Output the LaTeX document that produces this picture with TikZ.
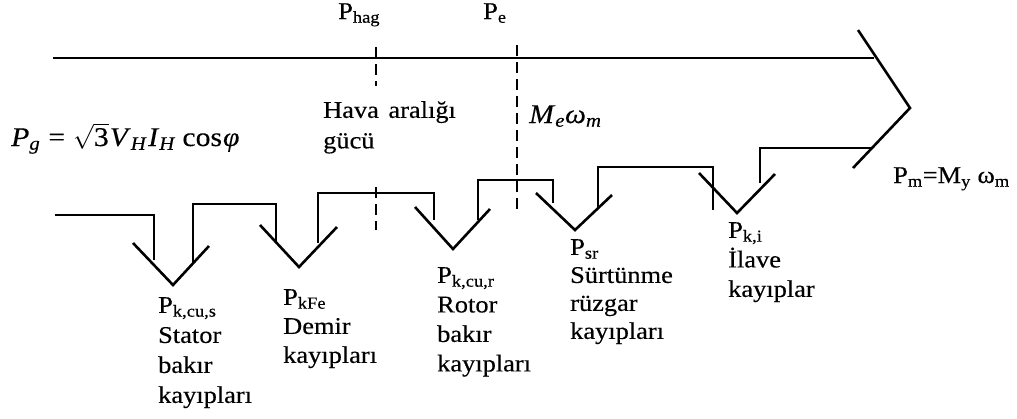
\documentclass[tikz,border=0pt]{standalone}
\usepackage{fontspec}
\setmainfont{Liberation Serif}[FakeStretch=1.1, FakeBold=0.3]
\begin{document}
\begin{tikzpicture}[x=1pt,y=-1pt,
  flow/.style={line width=2.6pt, line join=miter},
  sep/.style={line width=2.2pt, dash pattern=on 11pt off 6pt},
  lbl/.style={inner sep=0pt, anchor=north west, align=left, font=\fontsize{24}{29.5}\selectfont},
  mlbl/.style={inner sep=0pt, anchor=base west, font=\fontsize{27}{30}\selectfont}]
\useasboundingbox (0,0) rectangle (1017,418);
% main power band
\draw[flow] (53,58) -- (874,58);
\draw[flow] (858,30) -- (910,108) -- (853,168);
\draw[flow] (55,215) -- (154,215) -- (154,260);
\draw[flow] (133,243) -- (173,285) -- (209,246);
\draw[flow] (193,262) -- (193,204) -- (276,204) -- (276,242);
\draw[flow] (260,225) -- (299,267) -- (337,227);
\draw[flow] (318,243) -- (318,193) -- (434,193) -- (434,220);
\draw[flow] (415,207) -- (453,249) -- (490,209);
\draw[flow] (478,220) -- (478,180) -- (553,180) -- (553,203);
\draw[flow] (536,193) -- (575,230) -- (612,195);
\draw[flow] (598,207) -- (598,167) -- (713,167) -- (713,210);
\draw[flow] (699,173) -- (737,213) -- (775,174);
\draw[flow] (760,183) -- (760,148) -- (872,148);
% separators
\coordinate (h1) at (376,47); \coordinate (h2) at (376,86);
\coordinate (h3) at (376,187); \coordinate (h4) at (376,230);
\coordinate (e1) at (517,45); \coordinate (e2) at (517,212);
\draw[sep] (h1) -- (h2);
\draw[sep] (h3) -- (h4);
\draw[sep] (e1) -- (e2);
% labels
\node[lbl, anchor=base west] (phag) at (338,19) {P\textsubscript{hag}};
\node[lbl, anchor=base west] (pe) at (483,19) {P\textsubscript{e}};
\node[lbl, font=\fontsize{24}{30.5}\selectfont] (hava) at (323,101) {Hava\hspace{0.4em}aralığı\\gücü};
\node[mlbl] (pg) at (11,146) {\textit{P}\textsubscript{\textit{g}}\hspace{0.3em}=\hspace{0.3em}$\sqrt{\mbox{3}}$\kern1pt\textit{V}\textsubscript{\textit{H}}\kern1pt\textit{I}\textsubscript{\textit{H}}\hspace{0.25em}cos\kern1pt\textit{φ}};
\node[mlbl] (mw) at (529,123) {\textit{M}\textsubscript{\textit{e}}\textit{ω}\textsubscript{\textit{m}}};
\node[lbl, anchor=base west] (pm) at (893,183) {P\textsubscript{m}=M\textsubscript{y} ω\textsubscript{m}};
\node[lbl, font=\fontsize{24}{30}\selectfont] (l1) at (158,297) {P\textsubscript{k,cu,s}\\Stator\\bakır\\kayıpları};
\node[lbl, font=\fontsize{24}{29}\selectfont] (l2) at (283,289) {P\textsubscript{kFe}\\Demir\\kayıpları};
\node[lbl] (l3) at (437,267) {P\textsubscript{k,cu,r}\\Rotor\\bakır\\kayıpları};
\node[lbl, font=\fontsize{24}{28}\selectfont] (l4) at (570,239) {P\textsubscript{sr}\\Sürtünme\\rüzgar\\kayıpları};
\node[lbl] (l5) at (728,222) {P\textsubscript{k,i}\\İlave\\kayıplar};
\end{tikzpicture}
\end{document}
